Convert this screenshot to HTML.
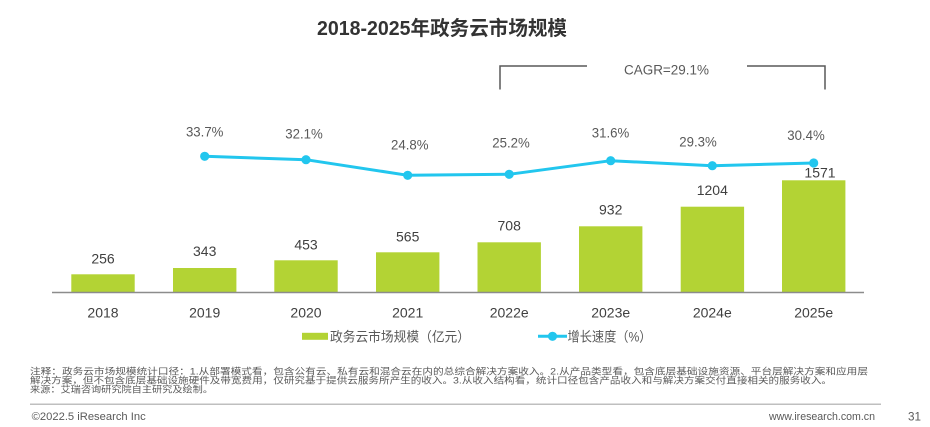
<!DOCTYPE html>
<html>
<head>
<meta charset="utf-8">
<style>
  html, body { margin: 0; padding: 0; background: #ffffff; }
  body { width: 930px; height: 427px; overflow: hidden; }
  svg { display: block; }
  text { font-family: "Liberation Sans", "Noto Sans CJK SC", sans-serif; }
</style>
</head>
<body>
<svg width="930" height="427" viewBox="0 0 930 427" xmlns="http://www.w3.org/2000/svg">
  <!-- Title -->
  <text x="442" y="35" text-anchor="middle" font-size="20" font-weight="bold" fill="#333333" textLength="250" lengthAdjust="spacingAndGlyphs">2018-2025年政务云市场规模</text>

  <!-- CAGR bracket -->
  <polyline points="500,89.5 500,66 587,66" fill="none" stroke="#595959" stroke-width="1.5"/>
  <polyline points="747,66 825,66 825,89.5" fill="none" stroke="#595959" stroke-width="1.5"/>
  <text x="666.5" y="74.3" text-anchor="middle" font-size="13.5" fill="#595959" textLength="85" lengthAdjust="spacingAndGlyphs">CAGR=29.1%</text>

  <!-- Bars -->
  <g fill="#b3d334">
    <rect x="71.3" y="274.3" width="63.4" height="18"/>
    <rect x="173" y="268" width="63.4" height="24.3"/>
    <rect x="274.3" y="260.3" width="63.4" height="32"/>
    <rect x="376" y="252.3" width="63.4" height="40"/>
    <rect x="477.5" y="242.3" width="63.4" height="50"/>
    <rect x="579" y="226.3" width="63.4" height="66"/>
    <rect x="680.7" y="206.7" width="63.4" height="85.6"/>
    <rect x="782" y="180.3" width="63.4" height="112"/>
  </g>

  <!-- Axis -->
  <line x1="52" y1="292.5" x2="864" y2="292.5" stroke="#8c8c8c" stroke-width="1.5"/>

  <!-- Bar value labels -->
  <g font-size="14" fill="#404040" text-anchor="middle">
    <text x="103" y="263.3">256</text>
    <text x="204.7" y="256">343</text>
    <text x="306" y="249.3">453</text>
    <text x="407.7" y="241.3">565</text>
    <text x="509.2" y="230.3">708</text>
    <text x="610.7" y="214.3">932</text>
    <text x="712.3" y="195">1204</text>
    <text x="820" y="177.3">1571</text>
  </g>

  <!-- X axis labels -->
  <g font-size="14" fill="#404040" text-anchor="middle">
    <text x="103" y="317.3">2018</text>
    <text x="204.7" y="317.3">2019</text>
    <text x="306" y="317.3">2020</text>
    <text x="407.7" y="317.3">2021</text>
    <text x="509.2" y="317.3">2022e</text>
    <text x="610.7" y="317.3">2023e</text>
    <text x="712.3" y="317.3">2024e</text>
    <text x="813.7" y="317.3">2025e</text>
  </g>

  <!-- Growth line -->
  <polyline points="204.7,156.3 306,159.7 407.7,175.3 509.2,174.3 610.7,160.7 712.3,165.7 813.7,163" fill="none" stroke="#22c6ee" stroke-width="3" stroke-linejoin="round"/>
  <g fill="#22c6ee">
    <circle cx="204.7" cy="156.3" r="4.6"/>
    <circle cx="306" cy="159.7" r="4.6"/>
    <circle cx="407.7" cy="175.3" r="4.6"/>
    <circle cx="509.2" cy="174.3" r="4.6"/>
    <circle cx="610.7" cy="160.7" r="4.6"/>
    <circle cx="712.3" cy="165.7" r="4.6"/>
    <circle cx="813.7" cy="163" r="4.6"/>
  </g>

  <!-- Percentage labels -->
  <g font-size="13.5" fill="#595959" text-anchor="middle">
    <text x="204.7" y="136.7" textLength="37.5" lengthAdjust="spacingAndGlyphs">33.7%</text>
    <text x="304" y="138.3" textLength="37.5" lengthAdjust="spacingAndGlyphs">32.1%</text>
    <text x="409.8" y="149.3" textLength="37.5" lengthAdjust="spacingAndGlyphs">24.8%</text>
    <text x="511" y="147.3" textLength="37.5" lengthAdjust="spacingAndGlyphs">25.2%</text>
    <text x="610.5" y="137.3" textLength="37.5" lengthAdjust="spacingAndGlyphs">31.6%</text>
    <text x="698" y="146.7" textLength="37.5" lengthAdjust="spacingAndGlyphs">29.3%</text>
    <text x="806" y="140" textLength="37.5" lengthAdjust="spacingAndGlyphs">30.4%</text>
  </g>

  <!-- Legend -->
  <rect x="302" y="332.8" width="26" height="7" fill="#b3d334"/>
  <text x="330" y="341.5" font-size="13.5" fill="#595959" textLength="140" lengthAdjust="spacingAndGlyphs">政务云市场规模（亿元）</text>
  <line x1="538" y1="336.3" x2="567" y2="336.3" stroke="#22c6ee" stroke-width="3"/>
  <circle cx="552.5" cy="336.3" r="4.6" fill="#22c6ee"/>
  <text x="567.5" y="341.5" font-size="13.5" fill="#595959" textLength="84" lengthAdjust="spacingAndGlyphs">增长速度（%）</text>

  <!-- Notes -->
  <g font-size="9" fill="#595959">
    <text x="30" y="374.6" textLength="838" lengthAdjust="spacingAndGlyphs">注释：政务云市场规模统计口径：1.从部署模式看，包含公有云、私有云和混合云在内的总综合解决方案收入。2.从产品类型看，包含底层基础设施资源、平台层解决方案和应用层</text>
    <text x="30" y="383.5" textLength="802" lengthAdjust="spacingAndGlyphs">解决方案，但不包含底层基础设施硬件及带宽费用，仅研究基于提供云服务所产生的收入。3.从收入结构看，统计口径包含产品收入和与解决方案交付直接相关的服务收入。</text>
    <text x="30" y="392.4" textLength="183" lengthAdjust="spacingAndGlyphs">来源：艾瑞咨询研究院自主研究及绘制。</text>
  </g>

  <!-- Separator -->
  <line x1="30" y1="404.3" x2="881" y2="404.3" stroke="#bfbfbf" stroke-width="1.5"/>

  <!-- Footer -->
  <text x="31.7" y="420" font-size="11" fill="#595959" textLength="114" lengthAdjust="spacingAndGlyphs">©2022.5 iResearch Inc</text>
  <text x="769" y="420" font-size="11" fill="#595959" textLength="106" lengthAdjust="spacingAndGlyphs">www.iresearch.com.cn</text>
  <text x="908" y="420.3" font-size="12" fill="#595959" textLength="13" lengthAdjust="spacingAndGlyphs">31</text>
</svg>
</body>
</html>
